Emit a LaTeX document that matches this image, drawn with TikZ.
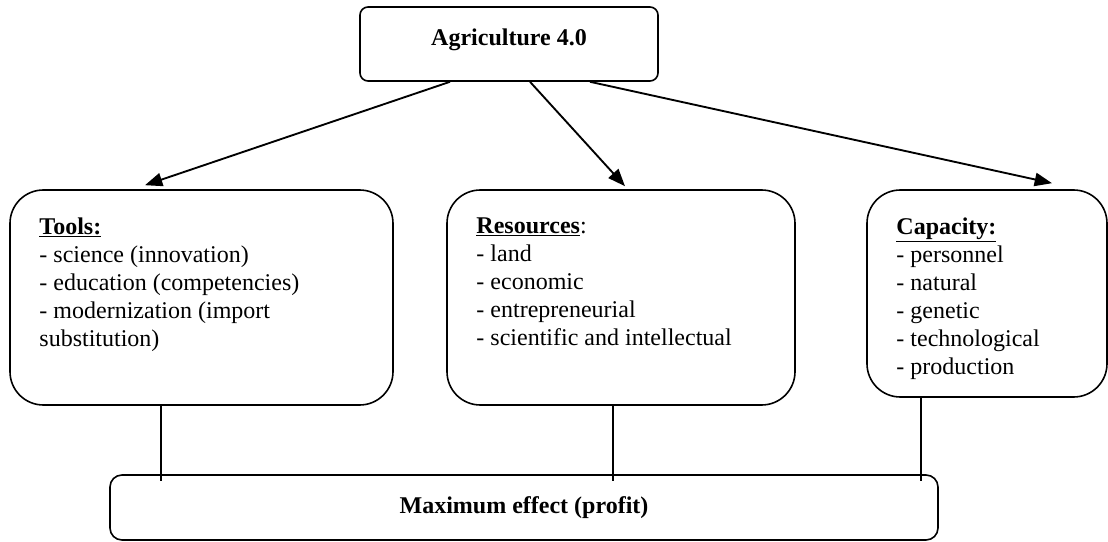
\documentclass[tikz,border=0pt]{standalone}
\usepackage{fontspec}
\setmainfont{Liberation Serif}
\usetikzlibrary{arrows.meta,positioning}

\begin{document}
\begin{tikzpicture}[x=0.75pt,y=-0.75pt,
		BoxStyle/.style={draw=black,line width=1.2pt,rounded corners=25pt,inner sep=0pt},
		ListStyle/.style={align=left,anchor=north west,inner sep=0pt,font=\fontsize{18}{21}\selectfont},
		EdgeStyle/.style={line width=1.4pt,-{Triangle[length=13pt,width=10pt]}},
		LinkStyle/.style={line width=0.8pt,shorten >=-5pt}]
		\useasboundingbox (0,0) rectangle (1108,542);
		% top
		\node[BoxStyle,rounded corners=6pt,minimum width=223.5pt,minimum height=55.5pt,text depth=10.6pt,
			font=\fontsize{18}{21}\selectfont\bfseries] (Agri) at (509,44) {Agriculture 4.0};
		% three boxes
		\node[BoxStyle,minimum width=287.25pt,minimum height=161.25pt] (Tools) at (201.5,297.5) {};
		\node[BoxStyle,minimum width=261pt,minimum height=161.25pt] (Res) at (621,297.5) {};
		\node[BoxStyle,minimum width=180pt,minimum height=155.25pt] (Cap) at (987,293.5) {};
		\node[ListStyle] (ToolsList) at ([shift={(30,28)}]Tools.north west)
			{\underline{\textbf{Tools:}}\\- science (innovation)\\- education (competencies)\\- modernization (import\\substitution)};
		\node[ListStyle] (ResList) at ([shift={(30,28)}]Res.north west)
			{\underline{\textbf{Resources}}:\\- land\\- economic\\- entrepreneurial\\- scientific and intellectual};
		\node[ListStyle] (CapList) at ([shift={(30,28)}]Cap.north west)
			{\underline{\textbf{Capacity:}}\\- personnel\\- natural\\- genetic\\- technological\\- production};
		% bottom
		\node[BoxStyle,rounded corners=9pt,minimum width=621pt,minimum height=48.75pt,
			font=\fontsize{18}{21}\selectfont\bfseries] (Max) at (524,507.5) {Maximum effect (profit)};
		% arrows
		\draw[EdgeStyle] ([shift={(-59,0)}]Agri.south) -- ([shift={(-56.5,-4)}]Tools.north);
		\draw[EdgeStyle] ([shift={(21,0)}]Agri.south) -- ([shift={(4,-3)}]Res.north);
		\draw[EdgeStyle] ([shift={(81,0)}]Agri.south) -- ([shift={(65,-6)}]Cap.north);
		% links
		\draw[LinkStyle] ([shift={(-40.5,0)}]Tools.south) -- ([shift={(-40.5,0)}]Tools.south |- Max.north);
		\draw[LinkStyle] ([shift={(-8,0)}]Res.south) -- ([shift={(-8,0)}]Res.south |- Max.north);
		\draw[LinkStyle] ([shift={(-66,0)}]Cap.south) -- ([shift={(-66,0)}]Cap.south |- Max.north);
\end{tikzpicture}
\end{document}
